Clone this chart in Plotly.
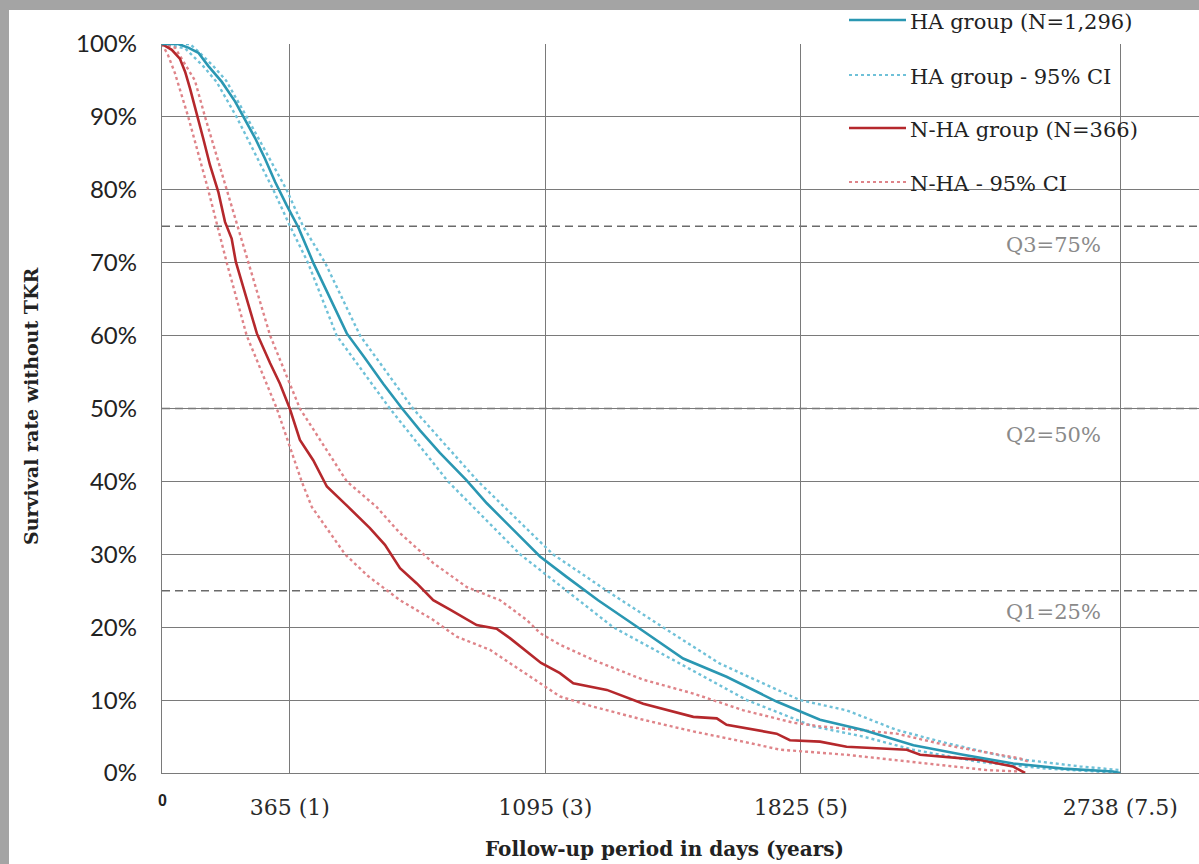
import plotly.graph_objects as go

# ---- Kaplan-Meier estimates: survival without TKR (%), by follow-up day ----
ha_days = [0, 46, 75, 104, 132, 171, 209, 232, 266, 294, 323, 356, 389, 434, 474,
           528, 577, 632, 686, 737, 794, 869, 928, 1013, 1080, 1156, 1246, 1356,
           1489, 1613, 1756, 1880, 2004, 2147, 2289, 2432, 2575, 2717, 2738]
ha_surv = [100, 100, 99.5, 98.8, 97.0, 94.8, 92.1, 90.0, 87.1, 84.3, 81.1, 77.9,
           74.9, 69.8, 65.8, 60.3, 57.1, 53.4, 50.0, 47.0, 43.9, 40.2, 37.0, 32.9,
           29.7, 26.9, 23.7, 20.1, 15.7, 13.2, 9.8, 7.3, 5.9, 3.8, 2.5, 1.3, 0.6,
           0.2, 0.0]

ha_lo_days = [0, 66, 117, 156, 213, 318, 366, 417, 499, 651, 817, 1023, 1156,
              1289, 1480, 1671, 1766, 1860, 2003, 2146, 2337, 2529, 2671, 2738]
ha_lo_surv = [100, 99.4, 97.0, 94.8, 90.0, 80.0, 75.0, 70.0, 60.0, 50.0, 40.0,
              30.0, 25.0, 20.0, 15.0, 10.0, 8.2, 6.4, 5.0, 3.2, 1.5, 0.6, 0.2, 0.0]

ha_hi_days = [0, 80, 103, 146, 183, 242, 356, 403, 466, 566, 717, 903, 1117,
              1271, 1431, 1594, 1823, 1956, 2099, 2242, 2431, 2623, 2738]
ha_hi_surv = [100, 100, 99.0, 97.0, 95.0, 90.0, 80.0, 75.0, 70.0, 60.0, 50.0,
              40.0, 30.0, 25.0, 20.0, 15.0, 10.0, 8.6, 5.9, 4.1, 2.0, 0.9, 0.4]

nha_days = [0, 28, 51, 66, 80, 102, 118, 137, 161, 180, 199, 211, 237, 271, 309,
            337, 365, 394, 432, 471, 532, 594, 637, 680, 728, 775, 823, 899, 956,
            994, 1083, 1137, 1175, 1271, 1375, 1518, 1585, 1613, 1756, 1794, 1880,
            1956, 2128, 2166, 2337, 2431, 2466]
nha_surv = [100, 99.2, 98.0, 96.2, 93.9, 90.0, 87.0, 83.4, 79.7, 75.6, 73.3,
            70.1, 66.0, 60.3, 56.2, 53.4, 50.0, 45.7, 42.9, 39.3, 36.5, 33.6,
            31.3, 28.1, 26.0, 23.7, 22.4, 20.3, 19.8, 18.5, 15.1, 13.7, 12.3,
            11.4, 9.5, 7.7, 7.5, 6.6, 5.4, 4.5, 4.3, 3.6, 3.2, 2.5, 1.8, 0.9, 0.0]

nha_lo_days = [0, 17, 37, 75, 132, 185, 242, 328, 399, 428, 523, 589, 680, 775,
               842, 937, 1137, 1232, 1375, 1518, 1661, 1766, 1956, 2194, 2357,
               2451]
nha_lo_surv = [100, 98.5, 96.0, 90.0, 80.0, 70.0, 60.0, 50.0, 40.0, 36.5, 30.0,
               27.0, 23.7, 21.0, 18.7, 16.9, 10.5, 9.1, 7.3, 5.7, 4.3, 3.2, 2.5,
               1.3, 0.4, 0.2]

nha_hi_days = [0, 37, 94, 123, 185, 247, 309, 394, 528, 613, 680, 775, 871, 966,
               1042, 1080, 1137, 1232, 1375, 1518, 1661, 1804, 1880, 2099, 2242,
               2451, 2480]
nha_hi_surv = [100, 99.5, 95.0, 90.0, 80.0, 70.0, 60.0, 50.0, 40.0, 36.5, 32.9,
               28.8, 25.5, 23.7, 21.0, 19.2, 17.6, 15.5, 12.8, 10.9, 8.6, 6.9,
               6.4, 5.4, 3.8, 2.0, 1.5]

# ---- axis ticks and reference lines ----
x_tickvals = [365, 1095, 1825, 2738]
x_ticktext = ["365 (1)", "1095 (3)", "1825 (5)", "2738 (7.5)"]
y_tickvals = [0, 10, 20, 30, 40, 50, 60, 70, 80, 90, 100]
y_ticktext = [f"{v}%" for v in y_tickvals]
quartiles = [75, 50, 25]
quartile_labels = ["Q3=75%", "Q2=50%", "Q1=25%"]

legend_labels = ["HA group (N=1,296)", "HA group - 95% CI",
                 "N-HA group (N=366)", "N-HA - 95% CI"]

HA_COL = "#2a97b2"
HA_CI_COL = "#6fc1d8"
NHA_COL = "#b5282c"
NHA_CI_COL = "#df8489"
GRID = "#7a7a7a"
SERIF = "DejaVu Serif"

# ---- page geometry (pixels) ----
W, H = 1199, 864
L, R, T, B = 162, 0, 44, 91
PW, PH = W - L - R, H - T - B
XMAX = PW / 0.35          # 0.35 px per day


def px_x(p):
    return (p - L) / PW


def px_y(p):
    return (H - B - p) / PH


fig = go.Figure()

ci_style = dict(width=2.4, dash="dot")
fig.add_trace(go.Scatter(x=ha_lo_days, y=ha_lo_surv, mode="lines",
                         line=dict(color=HA_CI_COL, **ci_style), showlegend=False))
fig.add_trace(go.Scatter(x=ha_hi_days, y=ha_hi_surv, mode="lines",
                         line=dict(color=HA_CI_COL, **ci_style), showlegend=False))
fig.add_trace(go.Scatter(x=nha_lo_days, y=nha_lo_surv, mode="lines",
                         line=dict(color=NHA_CI_COL, **ci_style), showlegend=False))
fig.add_trace(go.Scatter(x=nha_hi_days, y=nha_hi_surv, mode="lines",
                         line=dict(color=NHA_CI_COL, **ci_style), showlegend=False))
fig.add_trace(go.Scatter(x=nha_days, y=nha_surv, mode="lines",
                         line=dict(color=NHA_COL, width=2.6), showlegend=False))
fig.add_trace(go.Scatter(x=ha_days, y=ha_surv, mode="lines",
                         line=dict(color=HA_COL, width=2.6), showlegend=False))

shapes = []
# white panel behind the legend (hides the grid there)
shapes.append(dict(type="rect", xref="paper", yref="paper",
                   x0=px_x(770), x1=1.01, y0=px_y(207), y1=1.01,
                   fillcolor="white", line=dict(width=0), layer="between"))
# quartile reference lines
for q in quartiles:
    shapes.append(dict(type="line", xref="paper", yref="y", x0=0, x1=1, y0=q, y1=q,
                       line=dict(color="#6a6a6a", width=1.3, dash="8px,5px"),
                       layer="between"))
# gray frame strips along the top and left edge
shapes.append(dict(type="rect", xref="paper", yref="paper",
                   x0=px_x(0), x1=px_x(W + 2), y0=px_y(10), y1=px_y(-2),
                   fillcolor="#a4a4a4", line=dict(width=0), layer="above"))
shapes.append(dict(type="rect", xref="paper", yref="paper",
                   x0=px_x(-2), x1=px_x(9), y0=px_y(H + 2), y1=px_y(-2),
                   fillcolor="#a4a4a4", line=dict(width=0), layer="above"))

# legend samples
legend_rows_y = [20, 75, 128, 182]
legend_cols = [HA_COL, HA_CI_COL, NHA_COL, NHA_CI_COL]
legend_dash = ["solid", "dot", "solid", "dot"]
annotations = []
for lbl, ry, col, dsh in zip(legend_labels, legend_rows_y, legend_cols, legend_dash):
    shapes.append(dict(type="line", xref="paper", yref="paper",
                       x0=px_x(849), x1=px_x(906), y0=px_y(ry), y1=px_y(ry),
                       line=dict(color=col, width=2.4 if dsh == "solid" else 2, dash=dsh),
                       layer="above"))
    annotations.append(dict(text=lbl, xref="paper", yref="paper",
                            x=px_x(908), y=px_y(ry + 2), xanchor="left",
                            yanchor="middle", showarrow=False,
                            font=dict(family=SERIF, size=21, color="#222222")))

# quartile captions
for q, lbl, dy in zip(quartiles, quartile_labels, [-18.5, -26.5, -21.5]):
    annotations.append(dict(text=lbl, xref="paper", yref="y", x=px_x(1103), y=q,
                            yshift=dy, xanchor="right", yanchor="middle",
                            showarrow=False,
                            font=dict(family=SERIF, size=21, color="#8a8a8a")))

# origin label
annotations.append(dict(text="<b>0</b>", xref="x", yref="paper", x=0, y=px_y(800),
                        xanchor="center", yanchor="middle", showarrow=False,
                        font=dict(family="Liberation Sans", size=16, color="#222222")))
# axis titles
annotations.append(dict(text="<b>Follow-up period in days (years)</b>",
                        xref="paper", yref="paper", x=px_x(664), y=px_y(849),
                        xanchor="center", yanchor="middle", showarrow=False,
                        font=dict(family=SERIF, size=20, color="#222222")))
annotations.append(dict(text="<b>Survival rate without TKR</b>",
                        xref="paper", yref="paper", x=px_x(31), y=px_y(407),
                        xanchor="center", yanchor="middle", textangle=-90,
                        showarrow=False,
                        font=dict(family=SERIF, size=19, color="#222222")))

fig.update_layout(
    width=W, height=H,
    margin=dict(l=L, r=R, t=T, b=B, pad=0),
    paper_bgcolor="white", plot_bgcolor="white",
    showlegend=False,
    shapes=shapes, annotations=annotations,
    xaxis=dict(range=[0, XMAX], tickmode="array", tickvals=x_tickvals,
               ticktext=x_ticktext,
               showgrid=True, gridcolor=GRID, gridwidth=1.4,
               showline=True, linecolor=GRID, linewidth=1.4,
               zeroline=False, ticks="", ticklabelstandoff=14,
               tickfont=dict(family=SERIF, size=22, color="#2a2a2a"),
               fixedrange=True),
    yaxis=dict(range=[0, 100], tickmode="array", tickvals=y_tickvals,
               ticktext=y_ticktext,
               showgrid=True, gridcolor=GRID, gridwidth=1.4,
               showline=True, linecolor=GRID, linewidth=1.4,
               zeroline=False, ticks="", ticklabelstandoff=19,
               tickfont=dict(family="Lato", size=24, color="#222222"),
               fixedrange=True),
)

fig.write_html("out.html")
